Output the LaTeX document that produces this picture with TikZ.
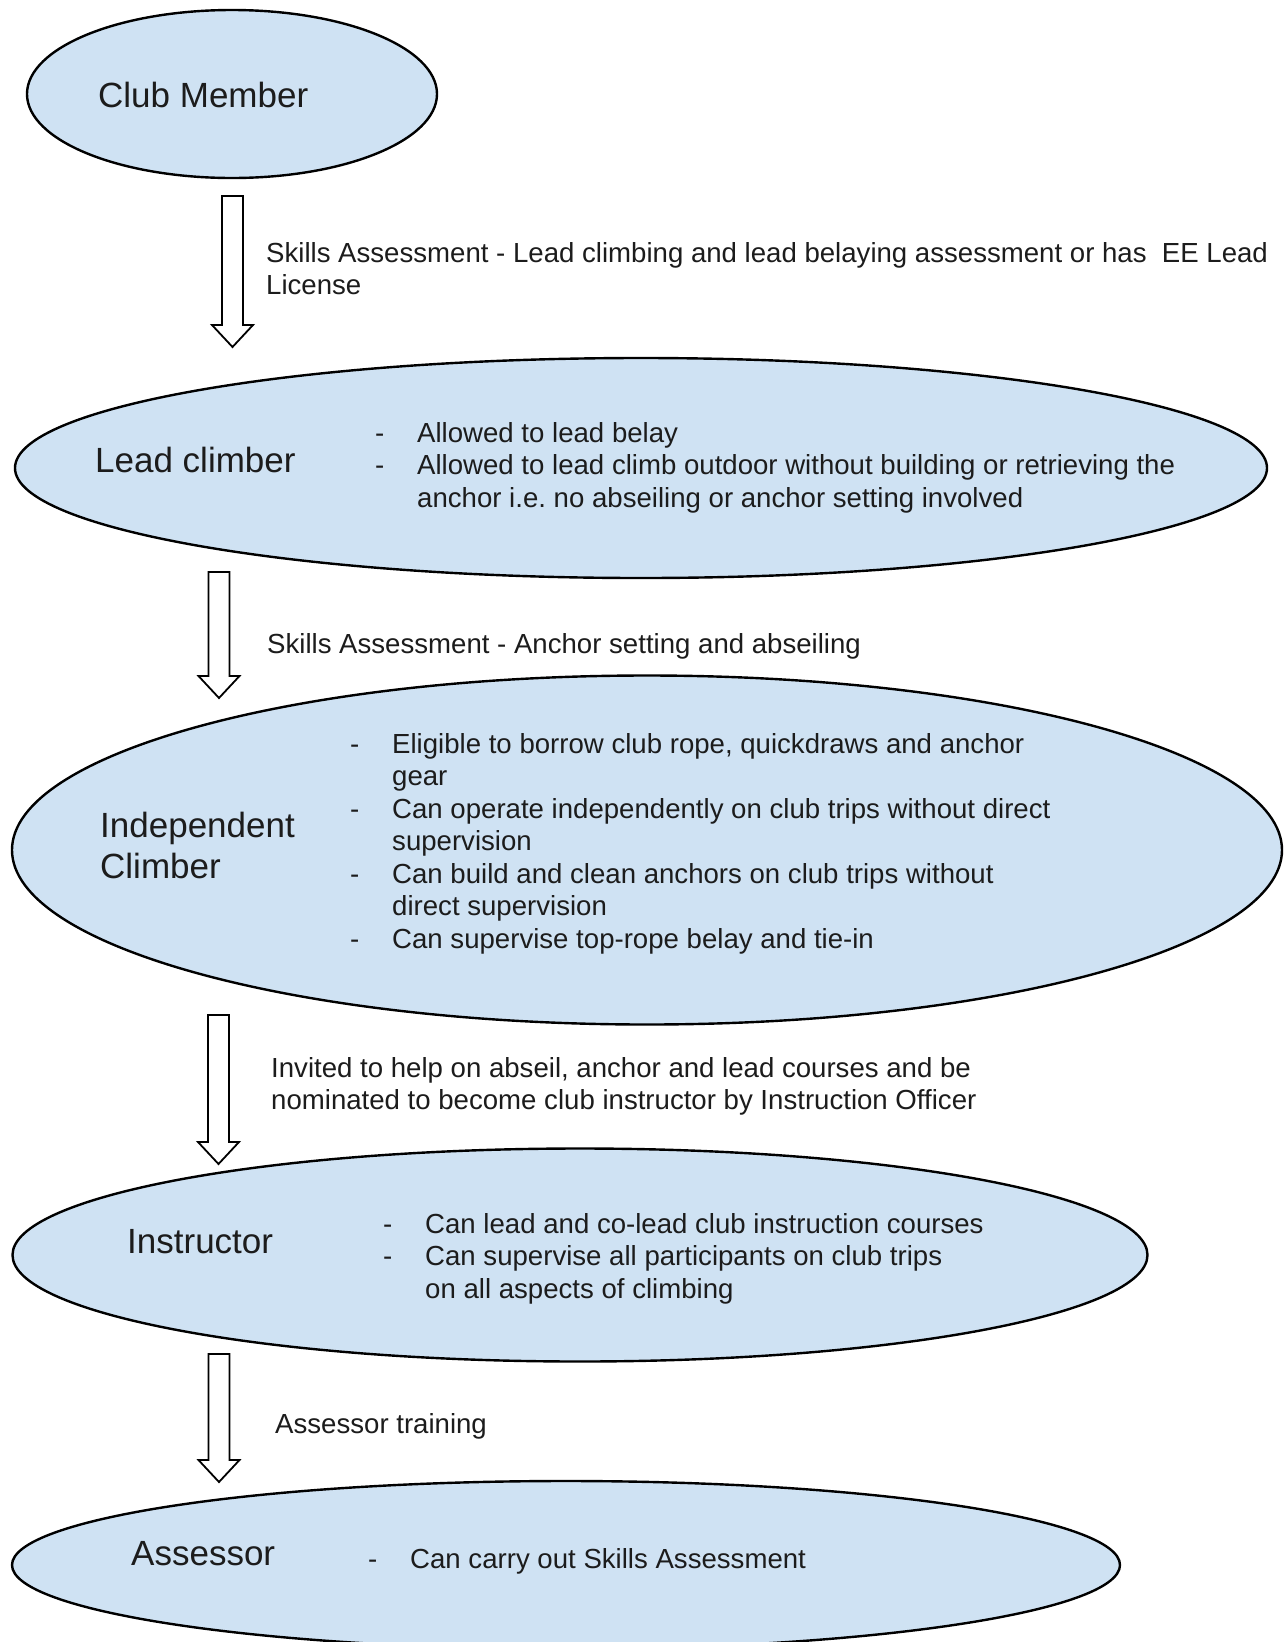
\documentclass[tikz,border=0pt]{standalone}
\usepackage{fontspec}
\setmainfont{Liberation Sans}
\usetikzlibrary{shapes.geometric,calc}
\frenchspacing

\definecolor{stagefill}{HTML}{CFE2F3}
\definecolor{ink}{HTML}{1C1C1C}

\tikzset{
  stage/.style={ellipse, draw=black, line width=2.4pt, fill=stagefill, inner sep=0pt},
  title/.style={anchor=base west, inner sep=0pt, text=ink, font=\fontsize{35}{41}\selectfont},
  body/.style={anchor=base west, inner sep=0pt, text=ink, font=\fontsize{27.6}{32.5}\selectfont},
  arrowline/.style={draw=black, line width=1.8pt, fill=white, line join=miter},
}

\newcommand{\hollowarrow}[2]{%
  \draw[arrowline] ($(#1)+(-10.5,0)$) -- ($(#2)+(-10.5,-22)$) -- ($(#2)+(-20.5,-22)$)
    -- (#2) -- ($(#2)+(20.5,-22)$) -- ($(#2)+(10.5,-22)$) -- ($(#1)+(10.5,0)$) -- cycle;}
\newcommand{\dashlist}[1]{\begin{tabular}[t]{@{}p{42pt}@{}l@{}}#1\end{tabular}}
\newcommand{\lines}[1]{\begin{tabular}[t]{@{}l@{}}#1\end{tabular}}

\begin{document}
\begin{tikzpicture}[x=1pt, y=-1pt]
	\useasboundingbox[fill=white] (0,0) rectangle (1287,1642);

	\node[stage, minimum width=410pt, minimum height=168pt] (member) at (232,94) {};
	\node[stage, minimum width=1252pt, minimum height=220pt] (lead) at (641,468) {};
	\node[stage, minimum width=1270pt, minimum height=349pt] (indep) at (647,850) {};
	\node[stage, minimum width=1135pt, minimum height=213pt] (instr) at (580,1255) {};
	\node[stage, minimum width=1108pt, minimum height=168pt] (assessor) at (566,1565) {};

	\node[title] (membertitle) at (98,107) {Club Member};
	\node[title] (leadtitle) at (95,472) {Lead climber};
	\node[title] (indeptitle) at (100,837) {\lines{Independent\\ Climber}};
	\node[title] (instrtitle) at (127,1253) {Instructor};
	\node[title] (assessortitle) at (131,1565) {Assessor};

	\node[body] (leadlist) at (375,442) {\dashlist{
		- & Allowed to lead belay\\
		- & Allowed to lead climb outdoor without building or retrieving the\\
		  & anchor i.e. no abseiling or anchor setting involved}};
	\node[body] (indeplist) at (350,753) {\dashlist{
		- & Eligible to borrow club rope, quickdraws and anchor\\
		  & gear\\
		- & Can operate independently on club trips without direct\\
		  & supervision\\
		- & Can build and clean anchors on club trips without\\
		  & direct supervision\\
		- & Can supervise top-rope belay and tie-in}};
	\node[body] (instrlist) at (383,1233) {\dashlist{
		- & Can lead and co-lead club instruction courses\\
		- & Can supervise all participants on club trips\\
		  & on all aspects of climbing}};
	\node[body] (assessorlist) at (368,1568) {\dashlist{
		- & Can carry out Skills Assessment}};

	\coordinate (a1s) at (232.5,196);
	\coordinate (a1e) at (232.5,347);
	\coordinate (a2s) at (219,572);
	\coordinate (a2e) at (219,698);
	\coordinate (a3s) at (218.5,1015);
	\coordinate (a3e) at (218.5,1164);
	\coordinate (a4s) at (219,1354);
	\coordinate (a4e) at (219,1482);
	\hollowarrow{a1s}{a1e}
	\hollowarrow{a2s}{a2e}
	\hollowarrow{a3s}{a3e}
	\hollowarrow{a4s}{a4e}

	\node[body] (step1) at (266,262) {\lines{Skills Assessment - Lead climbing and lead belaying assessment or has\ \ EE Lead\\ License}};
	\node[body] (step2) at (267,653) {Skills Assessment - Anchor setting and abseiling};
	\node[body] (step3) at (271,1077) {\lines{Invited to help on abseil, anchor and lead courses and be\\ nominated to become club instructor by Instruction Officer}};
	\node[body] (step4) at (275,1433) {Assessor training};
\end{tikzpicture}
\end{document}
